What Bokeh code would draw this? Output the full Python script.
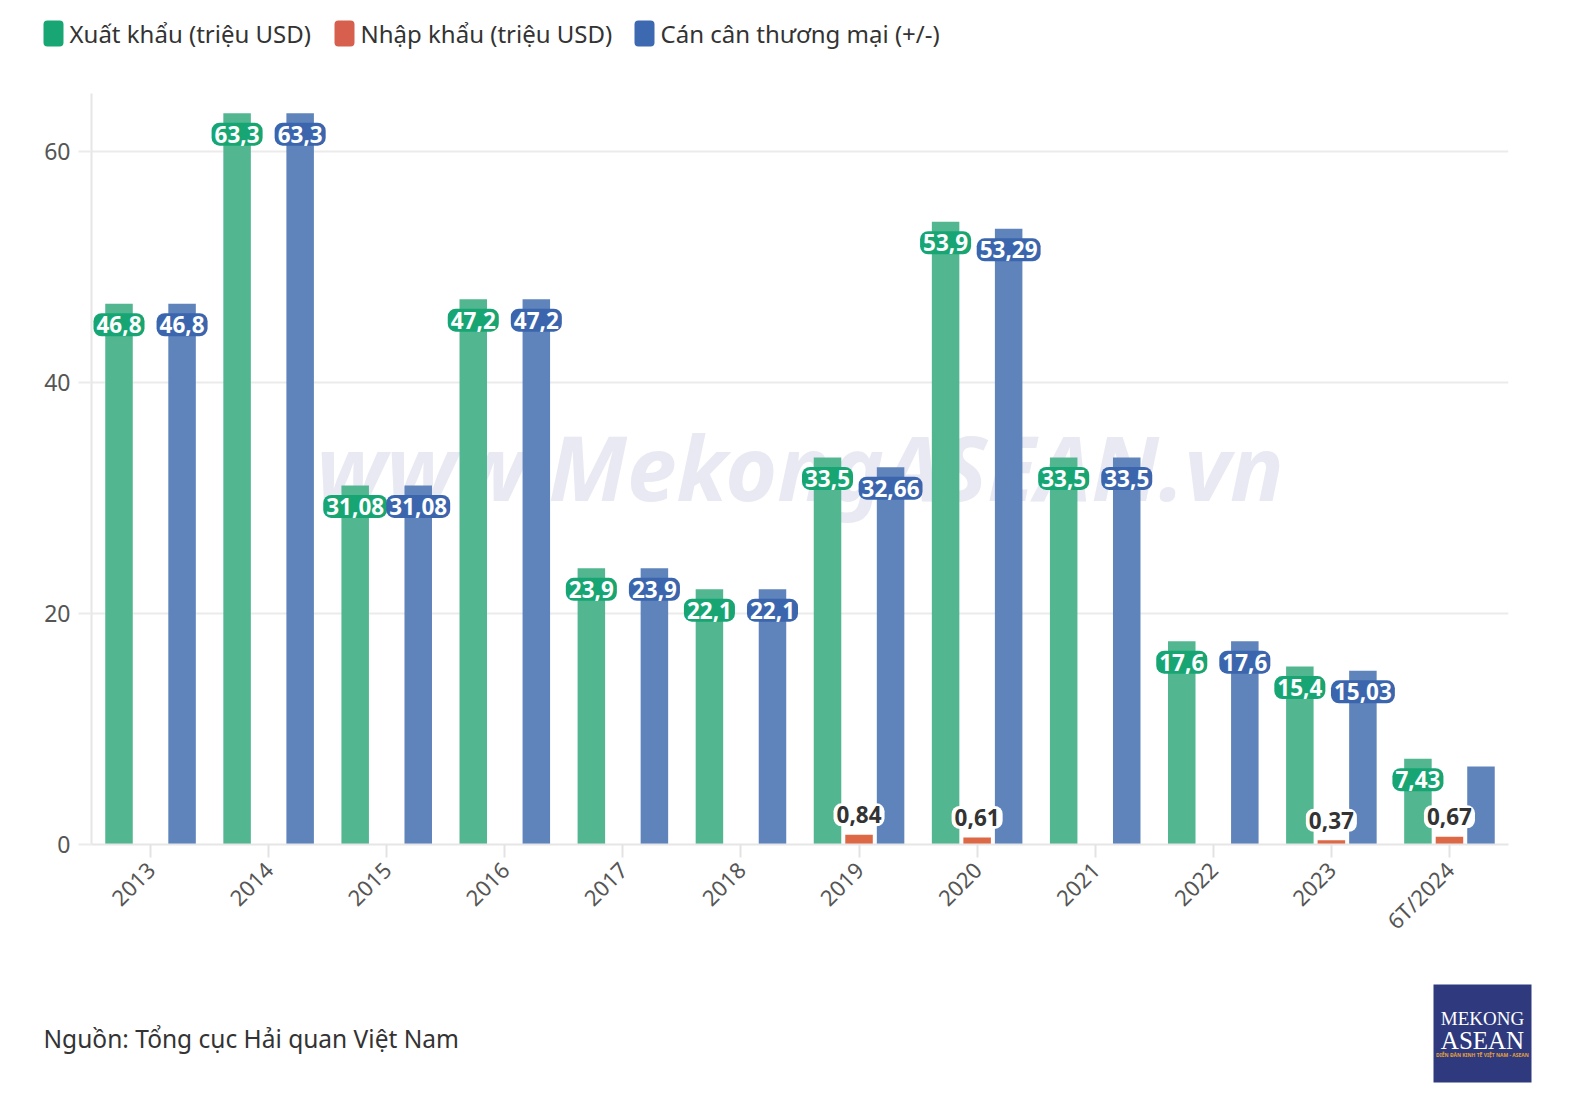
import math

from bokeh.core.properties import value
from bokeh.embed import file_html
from bokeh.layouts import column
from bokeh.models import ColumnDataSource, FactorRange, FixedTicker, Range1d, Quad
from bokeh.plotting import figure
from bokeh.resources import INLINE
from bokeh.transform import dodge

# ---- data -------------------------------------------------------------
years = ["2013", "2014", "2015", "2016", "2017", "2018",
         "2019", "2020", "2021", "2022", "2023", "6T/2024"]
xuat_khau = [46.8, 63.3, 31.08, 47.2, 23.9, 22.1, 33.5, 53.9, 33.5, 17.6, 15.4, 7.43]
nhap_khau = [None, None, None, None, None, None, 0.84, 0.61, None, None, 0.37, 0.67]
can_can = [46.8, 63.3, 31.08, 47.2, 23.9, 22.1, 32.66, 53.29, 33.5, 17.6, 15.03, 6.76]
can_can_labeled = [True] * 11 + [False]

series_names = ["Xuất khẩu (triệu USD)", "Nhập khẩu (triệu USD)", "Cán cân thương mại (+/-)"]
y_ticks = [0, 20, 40, 60]
source_note = "Nguồn: Tổng cục Hải quan Việt Nam"
watermark = "www.MekongASEAN.vn"

# ---- style ------------------------------------------------------------
FONT = "Noto Sans"
KEY_COLORS = ["#18a674", "#d6604d", "#3d69b0"]
BAR_COLORS = ["#52b791", "#dd6846", "#5f84bb"]
LABEL_BG = ["#17a673", None, "#3b66ae"]
GRID = "#ebebeb"
OFFSET = 0.267
BAR_W = 0.233
W = 1580

HAS_FRAME_ALIGN = "frame_align" in figure().properties()
ROUNDED = {"border_radius": 4} if "border_radius" in Quad.properties() else {}


def fmt(v):
    return f"{v:g}".replace(".", ",")


def blank(fig):
    fig.axis.visible = False
    fig.grid.visible = False
    fig.outline_line_color = None
    fig.background_fill_color = None
    fig.border_fill_color = "white"
    for side in ("left", "right", "top", "bottom"):
        setattr(fig, f"min_border_{side}", 0)
    if HAS_FRAME_ALIGN:
        fig.frame_align = False


nan = float("nan")
bars = ColumnDataSource(dict(
    year=years,
    xuat=xuat_khau,
    nhap=[nan if v is None else v for v in nhap_khau],
    can=can_can,
))

lab_x = ColumnDataSource(dict(year=years, y=xuat_khau, t=[fmt(v) for v in xuat_khau]))
nk_rows = [(y, v) for y, v in zip(years, nhap_khau) if v is not None]
lab_n = ColumnDataSource(dict(year=[r[0] for r in nk_rows], y=[r[1] for r in nk_rows],
                              t=[fmt(r[1]) for r in nk_rows]))
cc_rows = [(y, v) for y, v, s in zip(years, can_can, can_can_labeled) if s]
lab_c = ColumnDataSource(dict(year=[r[0] for r in cc_rows], y=[r[1] for r in cc_rows],
                              t=[fmt(r[1]) for r in cc_rows]))

# ---- legend strip -----------------------------------------------------
top = figure(width=W, height=70, x_range=Range1d(0, W), y_range=Range1d(70, 0),
             output_backend="svg", toolbar_location=None)
blank(top)
key_left = [43, 334, 634]
top.quad(left=key_left, right=[k + 20 for k in key_left], top=[20] * 3, bottom=[46] * 3,
         fill_color=KEY_COLORS, line_color=None, **ROUNDED)
top.text(x=[k + 26 for k in key_left], y=[33] * 3, text=series_names,
         text_font=value(FONT), text_font_size="24px", text_color="#333333",
         text_align="left", text_baseline="middle")

# ---- main chart -------------------------------------------------------
p = figure(x_range=FactorRange(*years), y_range=Range1d(0, 65),
           width=W, height=900,
           min_border_left=91, min_border_right=72, min_border_top=23, min_border_bottom=126,
           output_backend="svg", toolbar_location=None)
p.outline_line_color = None
p.background_fill_color = "white"
p.border_fill_color = "white"
if HAS_FRAME_ALIGN:
    p.frame_align = False

# watermark sits behind the bars
wm = ColumnDataSource(dict(x=["2019"], y=[32.7], t=[watermark]))
p.text(x=dodge("x", -0.5, range=p.x_range), y="y", text="t", source=wm,
       text_font=value(FONT), text_font_style="bold italic", text_font_size="89px",
       text_color="#e8e9f2", text_align="center", text_baseline="middle")

p.vbar(x=dodge("year", -OFFSET, range=p.x_range), top="xuat", width=BAR_W, source=bars,
       fill_color=BAR_COLORS[0], line_color=None)
p.vbar(x=dodge("year", 0, range=p.x_range), top="nhap", width=BAR_W, source=bars,
       fill_color=BAR_COLORS[1], line_color=None)
p.vbar(x=dodge("year", OFFSET, range=p.x_range), top="can", width=BAR_W, source=bars,
       fill_color=BAR_COLORS[2], line_color=None)

label_kw = dict(text_font=value(FONT), text_font_style="bold", text_font_size="22.5px",
                text_align="center", text_baseline="middle",
                padding=3, border_radius=8)
p.text(x=dodge("year", -OFFSET, range=p.x_range), y="y", text="t", source=lab_x,
       y_offset=21, text_color="white", background_fill_color=LABEL_BG[0], **label_kw)
p.text(x=dodge("year", OFFSET, range=p.x_range), y="y", text="t", source=lab_c,
       y_offset=21, text_color="white", background_fill_color=LABEL_BG[2], **label_kw)
p.text(x=dodge("year", 0, range=p.x_range), y="y", text="t", source=lab_n,
       y_offset=-20, text_color="#333333", background_fill_color="white", **label_kw)

p.xgrid.visible = False
p.ygrid.ticker = FixedTicker(ticks=y_ticks)
p.ygrid.grid_line_color = GRID
p.ygrid.grid_line_width = 2

p.yaxis.ticker = FixedTicker(ticks=y_ticks)
p.yaxis.axis_line_color = "#e6e6e6"
p.yaxis.axis_line_width = 2
p.yaxis.major_tick_line_color = GRID
p.yaxis.major_tick_line_width = 2
p.yaxis.major_tick_out = 13
p.yaxis.major_tick_in = 0
p.yaxis.minor_tick_line_color = None
p.yaxis.major_label_standoff = 8
p.yaxis.major_label_text_font = FONT
p.yaxis.major_label_text_font_size = "23px"
p.yaxis.major_label_text_color = "#555555"

p.xaxis.axis_line_color = "#e6e6e6"
p.xaxis.axis_line_width = 2
p.xaxis.major_tick_line_color = "#e3e3e3"
p.xaxis.major_tick_line_width = 2
p.xaxis.major_tick_out = 13
p.xaxis.major_tick_in = 0
p.xaxis.major_label_standoff = 8
p.xaxis.major_label_orientation = math.pi / 4
p.xaxis.major_label_text_font = FONT
p.xaxis.major_label_text_font_size = "22px"
p.xaxis.major_label_text_color = "#555555"

# ---- footer: source line and logo --------------------------------------
bot = figure(width=W, height=134, x_range=Range1d(0, W), y_range=Range1d(134, 0),
             output_backend="svg", toolbar_location=None)
blank(bot)
bot.text(x=[43], y=[68], text=[source_note], text_font=value(FONT), text_font_size="24.5px",
         text_color="#333333", text_align="left", text_baseline="middle")
bot.quad(left=[1433], right=[1531], top=[14], bottom=[112], fill_color="#2e3a7d", line_color=None)
bot.text(x=[1482], y=[48], text=["MEKONG"], text_font=value("Liberation Serif"),
         text_font_size="19px", text_color="white", text_align="center", text_baseline="middle")
bot.text(x=[1482], y=[70], text=["ASEAN"], text_font=value("Liberation Serif"),
         text_font_size="25px", text_color="white", text_align="center", text_baseline="middle")
bot.text(x=[1482], y=[84], text=["DIỄN ĐÀN KINH TẾ VIỆT NAM - ASEAN"], text_font=value(FONT),
         text_font_style="bold", text_font_size="5px", text_color="#e6a13c",
         text_align="center", text_baseline="middle")

layout = column(top, p, bot, spacing=0)
open("out.html", "w").write(file_html(layout, INLINE))
